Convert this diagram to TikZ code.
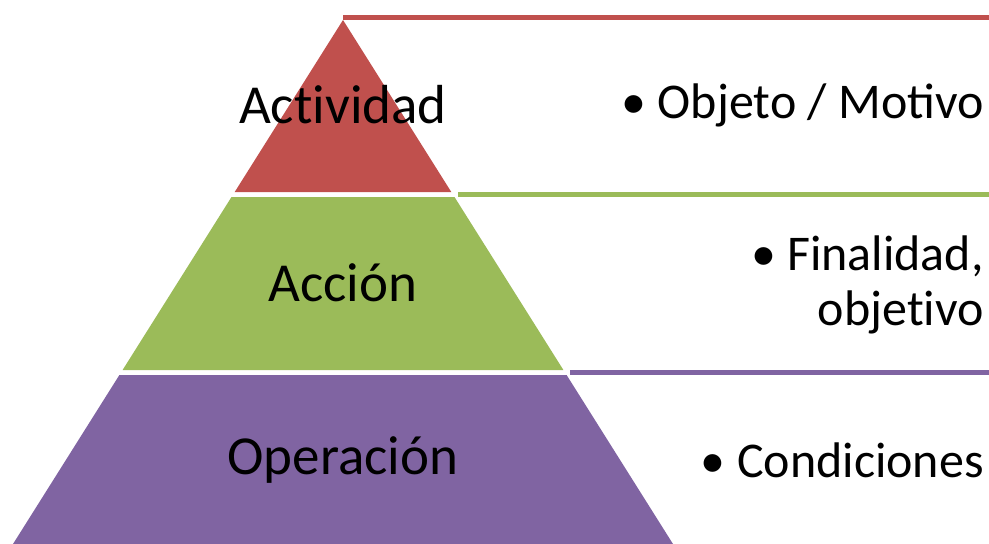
\documentclass[tikz,border=0pt]{standalone}
\usepackage{fontspec}
\setmainfont{Carlito}
\usepackage{tikz}
\usetikzlibrary{positioning, calc}

\definecolor{rojo}{HTML}{C0504D}
\definecolor{verde}{HTML}{9BBB59}
\definecolor{morado}{HTML}{8064A2}

\tikzset{
	nivel/.style={inner sep=0pt, font=\fontsize{55}{59}\selectfont},
	nota/.style={inner sep=0pt, anchor=east, align=right, font=\fontsize{50}{55}\selectfont},
	raya/.style={line width=5pt}
}

\begin{document}
\begin{tikzpicture}[x=1pt, y=-1pt]
			\useasboundingbox (0,0) rectangle (989,544);
			
			% bandas de la piramide
			\fill[rojo] (343,20) -- (451.3,192) -- (234.7,192) -- cycle;
			\fill[verde] (231.5,197) -- (454.5,197) -- (563.4,370) -- (122.6,370) -- cycle;
			\fill[morado] (119.4,375) -- (566.6,375) -- (673,544) -- (13,544) -- cycle;
			
			% rayas a la derecha
			\coordinate (r1) at (343,17.5);
			\coordinate (r2) at (458,194.5);
			\coordinate (r3) at (570,372.5);
			\coordinate (f1) at (989,17.5);
			\coordinate (f2) at (989,194.5);
			\coordinate (f3) at (989,372.5);
			\draw[raya, rojo] (r1) -- (f1);
			\draw[raya, verde] (r2) -- (f2);
			\draw[raya, morado] (r3) -- (f3);
			
			\node[nivel] (actividad) at (343,105) {Act\kern0pt ividad};
			\node[nivel] (accion)    at (343,283) {Acción};
			\node[nivel] (operacion) at (343,460) {Operación};
			
			\node[nota] (motivo)      at (984,105) {\textbullet\ Objeto / Motivo};
			\node[nota] (finalidad)   at (984,285) {\textbullet\ Finalidad,\\objet\kern0pt ivo};
			\node[nota] (condiciones) at (984,460) {\textbullet\ Condiciones};
		\end{tikzpicture}
\end{document}
